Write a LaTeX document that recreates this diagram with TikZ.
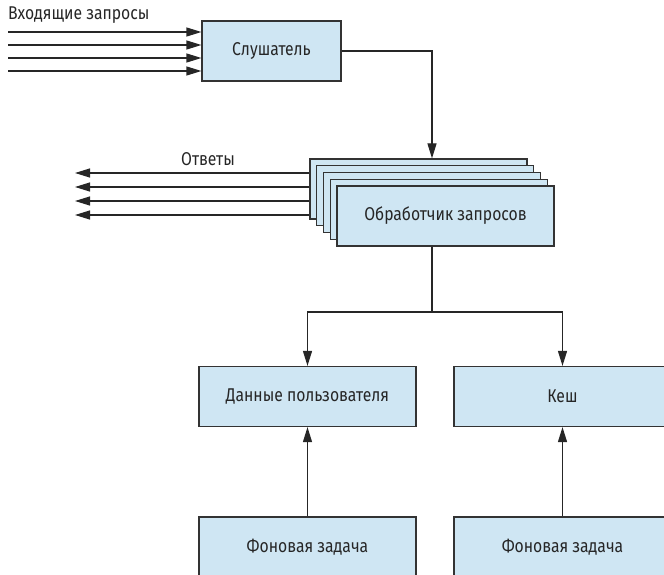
\documentclass[tikz,border=0pt]{standalone}
\usepackage{fontspec}
\setmainfont{Fira Sans}[FakeStretch=0.85]
\usetikzlibrary{arrows.meta}
\definecolor{boxfill}{HTML}{CFE6F3}
\definecolor{boxline}{HTML}{333333}
\begin{document}
\begin{tikzpicture}[x=1pt,y=-1pt,
  box/.style={draw=boxline,fill=boxfill,line width=1.2pt,minimum width=217pt,minimum height=60pt,inner sep=0pt,font=\fontsize{18.5}{20}\selectfont,text=black!85},
  conn/.style={draw=black!85,line width=1.2pt,-{Triangle[length=15pt,width=9pt]}},
  lbl/.style={font=\fontsize{18.5}{20}\selectfont,text=black!85,inner sep=0pt}]
\useasboundingbox (0,0) rectangle (664,575);
\clip (0,0) rectangle (664,575);
% listener
\node[box,minimum width=139pt] (listener) at (271.5,51) {Слушатель};
\node[lbl,anchor=west] (inlbl) at (8,15.5) {Входящие запросы};
\foreach \y [count=\i] in {32,45,58,71}{
  \coordinate (in\i) at (8,\y);
  \draw[conn] (in\i) -- (in\i -| listener.west);
}
% handler stack
\node[box] (h1) at (418.5,189) {};
\node[box] (h2) at (425.25,195.75) {};
\node[box] (h3) at (432,202.5) {};
\node[box] (h4) at (438.75,209.25) {};
\node[box] (h5) at (445.5,216) {Обработчик запросов};
\coordinate (hin) at (432,0);
\draw[conn] (listener.east) -| (hin |- h1.north);
\node[lbl] (outlbl) at (208,159) {Ответы};
\foreach \y [count=\i] in {173,187,201,215}{
  \coordinate (out\i) at (75,\y);
  \draw[conn] (out\i -| h1.west) -- (out\i);
}
% data boxes
\node[box] (user) at (307.5,396.5) {Данные пользователя};
\node[box] (cache) at (562.5,396.5) {Кеш};
\node[box] (bg1) at (307.5,547) {Фоновая задача};
\node[box] (bg2) at (562.5,547) {Фоновая задача};
\coordinate (hout) at (432,245);
\coordinate (split) at (432,312);
\draw[draw=black!85,line width=1.2pt] (hout |- h5.south) -- (split);
\draw[conn] (split) -| (user.north);
\draw[conn] (split) -| (cache.north);
\draw[conn] (bg1.north) -- (user.south);
\draw[conn] (bg2.north) -- (cache.south);
\end{tikzpicture}
\end{document}
